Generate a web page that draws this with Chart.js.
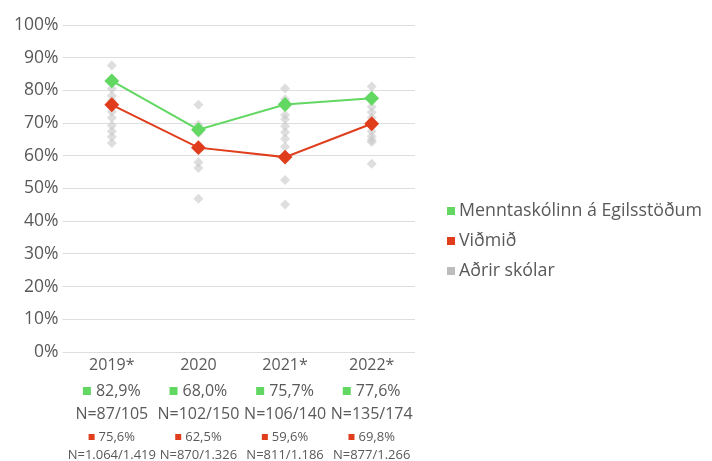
<!DOCTYPE html>
<html>
<head>
<meta charset="utf-8">
<script src="https://cdn.jsdelivr.net/npm/chart.js@4"></script>
<style>
  html, body { margin: 0; padding: 0; background: #fff; }
  #wrap { width: 712px; height: 461px; position: relative; }
</style>
</head>
<body>
<div id="wrap"><canvas id="chart"></canvas></div>
<script>
const years = ['2019*', '2020', '2021*', '2022*'];
const schoolValues = [82.9, 68.0, 75.7, 77.6];
const benchmarkValues = [75.6, 62.5, 59.6, 69.8];
const schoolN = ['N=87/105', 'N=102/150', 'N=106/140', 'N=135/174'];
const benchmarkN = ['N=1.064/1.419', 'N=870/1.326', 'N=811/1.186', 'N=877/1.266'];
const otherSchools2019 = [87.6, 80.5, 78.4, 76.8, 73.5, 71.6, 69.3, 67.5, 65.8, 63.9];
const otherSchools2020 = [75.6, 69.5, 67.0, 58.0, 56.3, 46.9];
const otherSchools2021 = [80.6, 77.3, 72.5, 71.2, 69.0, 67.2, 65.2, 62.8, 52.6, 45.1];
const otherSchools2022 = [81.2, 75.0, 73.3, 71.6, 69.2, 67.5, 66.0, 64.8, 64.2, 57.6];
const seriesNames = ['Menntaskólinn á Egilsstöðum', 'Viðmið', 'Aðrir skólar'];

const COLORS = {
  green: '#62d862',
  red: '#df3d1c',
  gray: 'rgba(200, 200, 200, 0.6)',
  grayLegend: '#bdbdbd',
  text: '#595959',
  grid: '#dedede',
};
const FONT = "'Open Sans', sans-serif";
const legendColors = [COLORS.green, COLORS.red, COLORS.grayLegend];

const otherPoints = [otherSchools2019, otherSchools2020, otherSchools2021, otherSchools2022]
  .flatMap((vals, i) => vals.map((v) => ({ x: years[i], y: v })));

const fmtPct = (v) => `${v.toFixed(1).replace('.', ',')}%`;

// category labels under the axis, with coloured markers, plus the legend on the right
const extraText = {
  id: 'extraText',
  afterDraw(chart) {
    const { ctx, chartArea } = chart;
    const xs = chart.scales.x;
    ctx.save();
    ctx.textBaseline = 'middle';
    years.forEach((year, i) => {
      const x = xs.getPixelForValue(i);
      ctx.fillStyle = COLORS.text;
      ctx.textAlign = 'center';
      ctx.font = `16px ${FONT}`;
      ctx.fillText(year, x, 365);

      const gTxt = fmtPct(schoolValues[i]);
      const gW = ctx.measureText(gTxt).width + 8 + 5;
      let left = x - gW / 2;
      ctx.fillStyle = COLORS.green;
      ctx.fillRect(left, 387, 8, 8);
      ctx.fillStyle = COLORS.text;
      ctx.textAlign = 'left';
      ctx.fillText(gTxt, left + 13, 391);
      ctx.textAlign = 'center';
      ctx.fillText(schoolN[i], x, 414);

      ctx.font = `13px ${FONT}`;
      const rTxt = fmtPct(benchmarkValues[i]);
      const rW = ctx.measureText(rTxt).width + 6 + 4;
      left = x - rW / 2;
      ctx.fillStyle = COLORS.red;
      ctx.fillRect(left, 434, 6, 6);
      ctx.fillStyle = COLORS.text;
      ctx.textAlign = 'left';
      ctx.fillText(rTxt, left + 10, 437);
      ctx.textAlign = 'center';
      ctx.fillText(benchmarkN[i], x, 455);
    });

    const lx = chartArea.right + 32;
    ctx.font = `17.8px ${FONT}`;
    ctx.textAlign = 'left';
    seriesNames.forEach((name, i) => {
      const y = 211 + i * 30;
      ctx.fillStyle = legendColors[i];
      ctx.fillRect(lx, y - 4, 8, 8);
      ctx.fillStyle = COLORS.text;
      ctx.fillText(name, lx + 12, y);
    });
    ctx.restore();
  },
};

new Chart(document.getElementById('chart'), {
  type: 'line',
  data: {
    labels: years,
    datasets: [
      {
        label: seriesNames[0],
        data: schoolValues,
        borderColor: COLORS.green,
        backgroundColor: COLORS.green,
        borderWidth: 2,
        pointStyle: 'rectRot',
        pointRadius: 6,
        pointHoverRadius: 6,
      },
      {
        label: seriesNames[1],
        data: benchmarkValues,
        borderColor: COLORS.red,
        backgroundColor: COLORS.red,
        borderWidth: 2,
        pointStyle: 'rectRot',
        pointRadius: 6,
        pointHoverRadius: 6,
      },
      {
        label: seriesNames[2],
        data: otherPoints,
        showLine: false,
        borderColor: 'rgba(0,0,0,0)',
        backgroundColor: COLORS.gray,
        borderWidth: 0,
        pointStyle: 'rectRot',
        pointRadius: 5,
        pointHoverRadius: 5,
      },
    ],
  },
  options: {
    responsive: true,
    maintainAspectRatio: false,
    animation: false,
    layout: { padding: { top: 25, bottom: 101, left: 10, right: 297 } },
    plugins: {
      tooltip: { enabled: false },
      legend: { display: false },
    },
    scales: {
      x: {
        offset: true,
        grid: { display: false },
        border: { display: false },
        ticks: { display: false },
      },
      y: {
        min: 0,
        max: 100,
        ticks: {
          stepSize: 10,
          color: COLORS.text,
          font: { size: 17.5, family: FONT },
          padding: 4,
          callback: (v) => `${v}%`,
        },
        grid: { color: COLORS.grid, tickLength: 6 },
        border: { display: false },
      },
    },
  },
  plugins: [extraText],
});
</script>
</body>
</html>
